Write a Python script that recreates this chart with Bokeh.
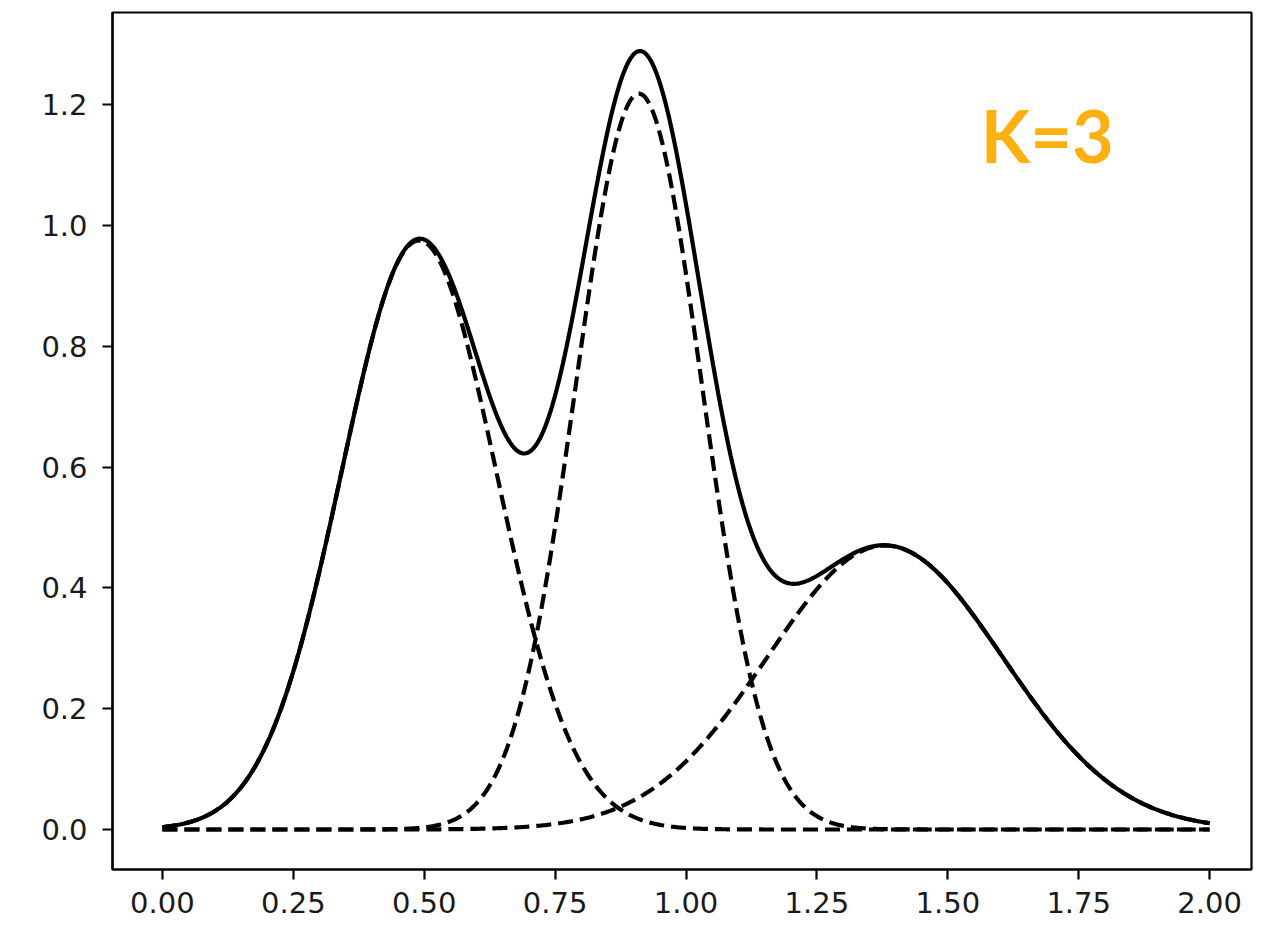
import numpy as np
from bokeh.plotting import figure
from bokeh.models import FixedTicker, NumeralTickFormatter, Range1d, Label
from bokeh.embed import file_html
from bokeh.resources import INLINE

# Mixture components (mean, width, peak height)
component_means = [0.49, 0.91, 1.38]
component_sigmas = [0.148, 0.12, 0.225]
component_peaks = [0.975, 1.218, 0.47]

x_start, x_end = 0.0, 2.0
x_ticks = [0.0, 0.25, 0.5, 0.75, 1.0, 1.25, 1.5, 1.75, 2.0]
y_ticks = [0.0, 0.2, 0.4, 0.6, 0.8, 1.0, 1.2]
annotation = "K=3"

xs = np.linspace(x_start, x_end, 600)
components = [pk * np.exp(-(xs - m) ** 2 / (2 * s ** 2))
              for m, s, pk in zip(component_means, component_sigmas, component_peaks)]
total = np.sum(components, axis=0)

p = figure(width=1253, height=925, output_backend="svg", toolbar_location=None,
           x_range=Range1d(-0.0953, 2.080), y_range=Range1d(-0.0662, 1.3523),
           min_border_left=112, min_border_right=2, min_border_top=12, min_border_bottom=56)

p.xgrid.visible = False
p.ygrid.visible = False
p.outline_line_color = "black"
p.outline_line_width = 2.2
p.background_fill_color = "white"
p.border_fill_color = "white"

for ax in (p.xaxis[0], p.yaxis[0]):
    ax.axis_line_color = "black"
    ax.axis_line_width = 2.2
    ax.major_tick_line_color = "black"
    ax.major_tick_line_width = 2.2
    ax.major_tick_out = 10
    ax.major_tick_in = 0
    ax.minor_tick_line_color = None
    ax.major_label_text_font = "DejaVu Sans"
    ax.major_label_text_font_size = "29px"
    ax.major_label_text_color = "#1a1a1a"

p.xaxis[0].major_label_standoff = 12
p.yaxis[0].major_label_standoff = 15

p.xaxis[0].ticker = FixedTicker(ticks=x_ticks)
p.xaxis[0].formatter = NumeralTickFormatter(format="0.00")
p.yaxis[0].ticker = FixedTicker(ticks=y_ticks)
p.yaxis[0].formatter = NumeralTickFormatter(format="0.0")

for comp in components:
    p.line(xs, comp, line_color="black", line_width=4.2, line_dash="15 7")
p.line(xs, total, line_color="black", line_width=4.2)

p.add_layout(Label(x=1.563, y=1.149, text=annotation, text_font="Lato",
                   text_font_style="bold", text_font_size="72px",
                   text_color="#FDB012", text_align="left", text_baseline="alphabetic"))

open("out.html", "w").write(file_html(p, INLINE))
